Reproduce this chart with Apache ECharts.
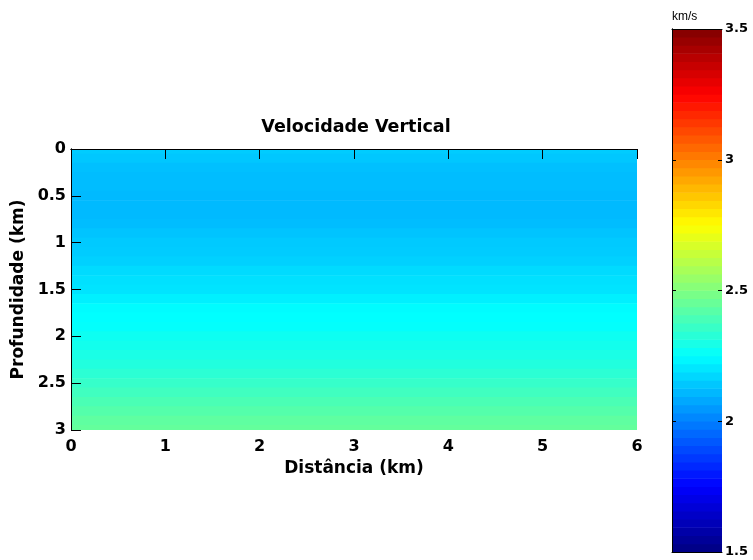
<!DOCTYPE html>
<html>
<head>
<meta charset="utf-8">
<script src="https://cdn.jsdelivr.net/npm/echarts@6/dist/echarts.min.js"></script>
<style>
html,body{margin:0;padding:0;background:#fff;}
#chart{width:753px;height:560px;}
</style>
</head>
<body>
<div id="chart"></div>
<script>
// ---- data ----
const depths = [0.0,0.1,0.2,0.3,0.4,0.5,0.6,0.7,0.8,0.9,1.0,1.1,1.2,1.3,1.4,1.5,1.6,1.7,1.8,1.9,2.0,2.1,2.2,2.3,2.4,2.5,2.6,2.7,2.8,2.9,3.0];
const velocities = [2.15,2.14,2.125,2.12,2.12,2.115,2.115,2.115,2.12,2.134,2.145,2.15,2.16,2.18,2.19,2.197,2.22,2.245,2.25,2.255,2.275,2.285,2.30,2.315,2.335,2.355,2.375,2.395,2.415,2.435,2.445];
const distanceRange = [0, 6];
const depthRange = [0, 3];
const xTicks = [0,1,2,3,4,5,6];
const yTicks = [0,0.5,1,1.5,2,2.5,3];
const cbarTicks = [1.5,2,2.5,3,3.5];
const cbarLevels = 64;
const jetColors = ['#000080','#0000ff','#0080ff','#00ffff','#80ff80','#ffff00','#ff8000','#ff0000','#800000'];

const FONT = 'DejaVu Sans';
const vMin = cbarTicks[0], vMax = cbarTicks[cbarTicks.length-1];

const fieldData = depths.map((d, i) => {
  const half = 0.05;
  return [distanceRange[0], distanceRange[1], Math.max(depthRange[0], d - half), Math.min(depthRange[1], d + half), velocities[i]];
});
const cbarData = [];
for (let k = 0; k < cbarLevels; k++) {
  const lo = vMin + (vMax - vMin) * k / cbarLevels;
  const hi = vMin + (vMax - vMin) * (k + 1) / cbarLevels;
  cbarData.push([0, 1, lo, hi, (lo + hi) / 2]);
}

function renderRect(params, api) {
  const p0 = api.coord([api.value(0), api.value(2)]);
  const p1 = api.coord([api.value(1), api.value(3)]);
  return {
    type: 'rect',
    shape: {
      x: Math.min(p0[0], p1[0]),
      y: Math.min(p0[1], p1[1]) - 0.3,
      width: Math.abs(p1[0] - p0[0]),
      height: Math.abs(p1[1] - p0[1]) + 0.6
    },
    style: { fill: api.visual('color') }
  };
}

const labelStyle = { fontFamily: FONT, fontWeight: 'bold', fontSize: 16, color: '#000' };
const nameStyle = { fontFamily: FONT, fontWeight: 'bold', fontSize: 17, color: '#000' };

// an axis that draws only the frame line
function frameAxis(extra) {
  return Object.assign({
    type: 'value', zlevel: 1,
    axisLine: { show: true, lineStyle: { color: '#000', width: 1 } },
    axisTick: { show: false }, splitLine: { show: false }, axisLabel: { show: false }
  }, extra);
}
// an axis shifted inward that draws only its tick marks (so they point into the box)
function tickAxis(len, extra) {
  return Object.assign({
    type: 'value', zlevel: 1, offset: -len,
    axisLine: { show: false },
    axisTick: { show: true, length: len, lineStyle: { color: '#000', width: 1 } },
    splitLine: { show: false }, axisLabel: { show: false }
  }, extra);
}

const xMain = { gridIndex: 0, min: distanceRange[0], max: distanceRange[1], interval: 1 };
const yMain = { gridIndex: 0, min: depthRange[0], max: depthRange[1], interval: 0.5, inverse: true };
const xCb = { gridIndex: 1, min: 0, max: 1 };
const yCb = { gridIndex: 1, min: vMin, max: vMax, interval: 0.5 };

const chart = echarts.init(document.getElementById('chart'), null, { renderer: 'canvas' });
chart.setOption({
  animation: false,
  backgroundColor: '#fff',
  graphic: [
    { type: 'text', x: 356, y: 127, z: 100,
      style: { text: 'Velocidade Vertical', fontFamily: FONT, fontWeight: 'bold', fontSize: 17.5, fill: '#000', align: 'center', verticalAlign: 'middle' } },
    { type: 'text', x: 672, y: 17, z: 100,
      style: { text: 'km/s', fontFamily: 'Liberation Sans', fontSize: 12, fill: '#000', align: 'left', verticalAlign: 'middle' } }
  ],
  grid: [
    { left: 71, top: 149, width: 566, height: 281, show: false },
    { left: 672, top: 29, width: 50, height: 523, show: false }
  ],
  xAxis: [
    frameAxis(Object.assign({}, xMain, { position: 'bottom',
      axisLabel: Object.assign({ show: true, margin: 9 }, labelStyle),
      name: 'Distância (km)', nameLocation: 'middle', nameGap: 27, nameTextStyle: nameStyle })),
    frameAxis(Object.assign({}, xMain, { position: 'top' })),
    tickAxis(5, Object.assign({}, xMain, { position: 'bottom' })),
    tickAxis(5, Object.assign({}, xMain, { position: 'top' })),
    frameAxis(Object.assign({}, xCb, { position: 'bottom' })),
    frameAxis(Object.assign({}, xCb, { position: 'top' }))
  ],
  yAxis: [
    frameAxis(Object.assign({}, yMain, { position: 'left',
      axisLabel: Object.assign({ show: true, margin: 5 }, labelStyle),
      name: 'Profundidade (km)', nameLocation: 'middle', nameGap: 42, nameTextStyle: nameStyle })),
    frameAxis(Object.assign({}, yMain, { position: 'right' })),
    tickAxis(5, Object.assign({}, yMain, { position: 'left' })),
    tickAxis(5, Object.assign({}, yMain, { position: 'right' })),
    frameAxis(Object.assign({}, yCb, { position: 'left' })),
    frameAxis(Object.assign({}, yCb, { position: 'right',
      axisLabel: { show: true, margin: 3, fontFamily: FONT, fontWeight: 'bold', fontSize: 13, color: '#000',
        formatter: v => cbarTicks.indexOf(v) >= 0 ? String(v) : '' } })),
    tickAxis(4, Object.assign({}, yCb, { position: 'left' })),
    tickAxis(4, Object.assign({}, yCb, { position: 'right' }))
  ],
  visualMap: {
    type: 'continuous', show: false, min: vMin, max: vMax, dimension: 4, seriesIndex: [0, 1],
    inRange: { color: jetColors }
  },
  series: [
    { type: 'custom', name: 'Velocidade', xAxisIndex: 0, yAxisIndex: 0, clip: true,
      encode: { x: [0, 1], y: [2, 3] }, renderItem: renderRect, data: fieldData },
    { type: 'custom', name: 'Colorbar', xAxisIndex: 4, yAxisIndex: 4, clip: true,
      encode: { x: [0, 1], y: [2, 3] }, renderItem: renderRect, data: cbarData }
  ]
});
</script>
</body>
</html>
